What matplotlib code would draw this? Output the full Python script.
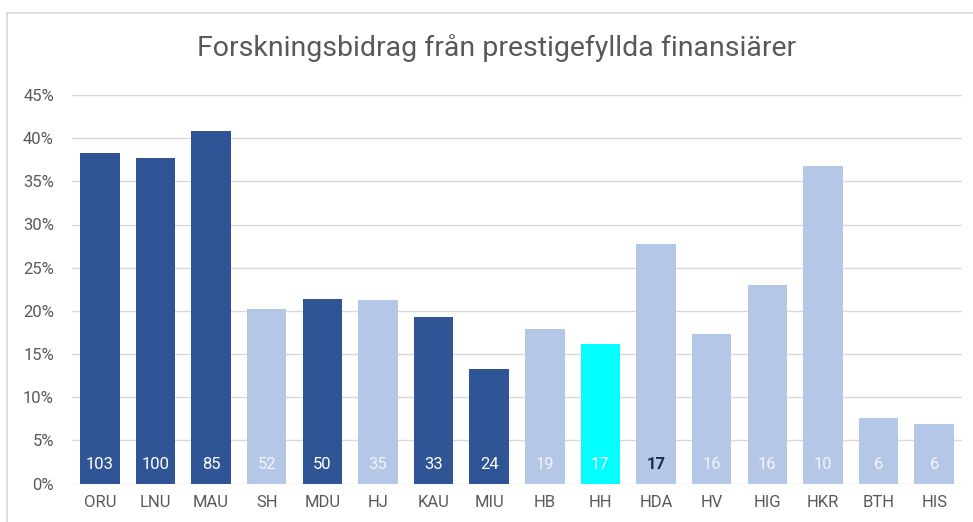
"""Forskningsbidrag från prestigefyllda finansiärer - bar chart per lärosäte."""
import matplotlib
matplotlib.use("Agg")
import matplotlib.pyplot as plt
from matplotlib.patches import Rectangle
from matplotlib.ticker import FuncFormatter

# data
schools = ["ORU", "LNU", "MAU", "SH", "MDU", "HJ", "KAU", "MIU",
           "HB", "HH", "HDA", "HV", "HIG", "HKR", "BTH", "HIS"]
share_pct = [38.3, 37.7, 40.8, 20.2, 21.4, 21.3, 19.3, 13.3,
             17.9, 16.2, 27.7, 17.3, 23.0, 36.8, 7.6, 6.9]
counts = [103, 100, 85, 52, 50, 35, 33, 24, 19, 17, 17, 16, 16, 10, 6, 6]
group = ["dark", "dark", "dark", "light", "dark", "light", "dark", "dark",
         "light", "hi", "light", "light", "light", "light", "light", "light"]

COLORS = {"dark": "#2F5597", "light": "#B4C7E7", "hi": "#00FFFF"}
GRAY = "#595959"

plt.rcParams["font.family"] = ["Roboto", "DejaVu Sans"]

fig = plt.figure(figsize=(9.73, 5.22), dpi=100)
fig.patch.set_facecolor("white")

# light frame around the chart area (cut at the right/bottom like the screenshot)
fig.patches.append(Rectangle((7 / 973, -0.2), 1.2, (522 - 13) / 522 + 0.2,
                             transform=fig.transFigure, fill=False,
                             edgecolor="#D9D9D9", linewidth=1.2))

ax = fig.add_axes([72 / 973, 1 - 483.5 / 522, (962 - 72) / 973, (483.5 - 95) / 522])

x = range(len(schools))
ax.bar(x, share_pct, width=0.71, color=[COLORS[g] for g in group], zorder=3)

for i, (n, g) in enumerate(zip(counts, group)):
    if schools[i] == "HDA":
        ax.text(i, 2.2, str(n), ha="center", va="center", fontsize=12,
                color="#1F2A44", fontweight="bold", zorder=4)
    else:
        ax.text(i, 2.2, str(n), ha="center", va="center", fontsize=12,
                color="white" if g != "light" else "#F2F5FB", zorder=4)

ax.set_xlim(-0.5, len(schools) - 0.5)
ax.set_ylim(0, 45)
ax.set_yticks(range(0, 46, 5))
ax.yaxis.set_major_formatter(FuncFormatter(lambda v, _: f"{v:.0f}%"))
ax.set_xticks(list(x))
ax.set_xticklabels(schools)
ax.tick_params(axis="both", length=0, colors=GRAY, labelsize=12)
ax.tick_params(axis="y", pad=13)
ax.tick_params(axis="x", pad=8)
ax.grid(axis="y", color="#D9D9D9", linewidth=1, zorder=0)
for s in ax.spines.values():
    s.set_visible(False)

fig.text(497 / 973, 1 - 48 / 522, "Forskningsbidrag från prestigefyllda finansiärer",
         ha="center", va="center", fontsize=20.5, color=GRAY)

fig.savefig("out.png", dpi=100)
